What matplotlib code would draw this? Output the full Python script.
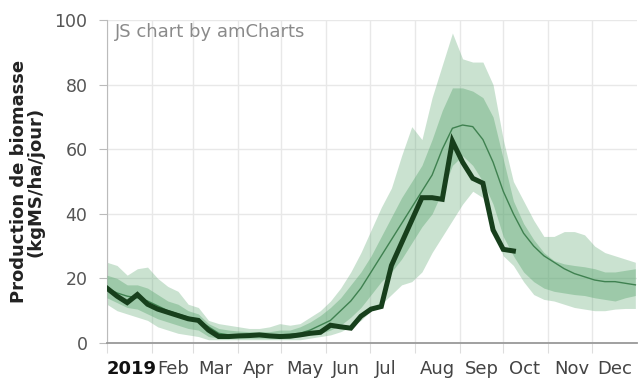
import matplotlib
matplotlib.use('Agg')
import matplotlib.pyplot as plt
import matplotlib.transforms as mtransforms
import pandas as pd

plt.rcParams['font.family'] = ['DejaVu Sans']

# semaines de 2019 (une valeur par semaine)
dates = pd.date_range('2019-01-01', periods=53, freq='7D')

# production 2019 (courbe épaisse, s'arrête début octobre)
prod_2019 = [17, 14.5, 12.5, 15, 12, 10.5, 9.5, 8.5, 7.5, 7, 4, 2, 2, 2.2,
             2.3, 2.5, 2.2, 2, 2.1, 2.5, 3, 3.3, 5.5, 5, 4.6, 8.3, 10.5, 11.3,
             24, 31, 38, 45, 45, 44.5, 62.5, 56, 51, 49.5, 35, 29, 28.5]

# médiane des années précédentes
mediane = [17, 15.5, 14.5, 14, 13, 11.5, 10, 9, 8, 7, 5, 3, 2.5, 2.5,
           2.5, 2.5, 2.5, 2.5, 2.7, 3, 4, 5.5, 7, 10, 13, 17, 22, 27,
           32, 37, 42, 47, 52, 60, 66.5, 67.5, 67, 63, 56, 47, 40, 34,
           30, 27, 25, 23, 21.5, 20.5, 19.5, 19, 19, 18.5, 18]

# bande intérieure
int_haut = [21, 20, 18, 18, 17, 15, 13, 12, 10, 9, 6, 4.5, 4, 3.7,
            3.5, 3.5, 3.5, 4, 4, 5, 6.5, 8.5, 11, 14, 18, 22, 27, 33,
            39, 45, 50, 55, 63, 72, 79, 79, 78, 76, 70, 57, 44, 37,
            32, 28, 25.5, 24.5, 24, 23.6, 23, 22, 22, 22.5, 23]
int_bas = [14, 12.5, 11, 10.5, 9, 7.5, 6.5, 5.5, 4.5, 4, 2, 1.5, 1.5, 1.5,
           1.5, 1.5, 1.5, 1.5, 1.5, 2, 2.5, 3, 4, 5.5, 8, 11, 15, 19,
           22, 26, 31, 36, 40, 47, 55, 58, 55, 50, 43, 33, 27, 22,
           19, 17, 16, 15.5, 15, 14.7, 14, 13.5, 13, 14, 14.7]

# bande extérieure
ext_haut = [25, 24, 21, 23, 23.5, 20, 17.5, 16, 12, 11, 7, 6, 5.5, 5,
            4.5, 4.5, 5, 6, 5.5, 6, 8, 10, 13, 17, 22, 28, 35, 42,
            48, 58, 67, 63, 76, 86, 96, 88, 87, 87, 80, 63, 50, 44,
            38, 33, 33, 34.5, 34.5, 33.5, 30, 28, 27, 26, 25]
ext_bas = [12, 10, 9, 8, 7, 5, 4, 3, 2.5, 2, 1, 1, 1, 1,
           1, 1, 1, 1, 1, 1, 1.5, 2, 2.5, 3.5, 5, 7, 10, 12,
           15, 18, 19, 22, 28, 33, 38, 43, 47, 45, 35, 27, 24, 19,
           15, 13.5, 13, 12, 11, 10.5, 10, 10, 10.5, 10.7, 10.7]

yticks = [0, 20, 40, 60, 80, 100]
mois = ['2019', 'Feb', 'Mar', 'Apr', 'May', 'Jun', 'Jul', 'Aug', 'Sep',
        'Oct', 'Nov', 'Dec']

fig, ax = plt.subplots(figsize=(6.4, 3.79), dpi=100)
fig.subplots_adjust(left=0.167, right=0.995, bottom=0.095, top=0.947)

vert = '#5fa873'
ax.fill_between(dates, ext_bas, ext_haut, color=vert, alpha=0.33, lw=0, zorder=2)
ax.fill_between(dates, int_bas, int_haut, color=vert, alpha=0.42, lw=0, zorder=3)
ax.plot(dates, mediane, color='#3f8150', lw=1.0, zorder=4)
ax.plot(dates[:len(prod_2019)], prod_2019, color='#173f1c', lw=3.6,
        solid_joinstyle='miter', zorder=5)

ax.set_ylim(0, 100)
ax.set_xlim(pd.Timestamp('2019-01-01'), pd.Timestamp('2020-01-01'))
ax.set_yticks(yticks)
ax.tick_params(axis='y', labelsize=12.5, colors='#555555', length=6,
               width=0.8, pad=8)
ax.tick_params(axis='y', color='#bbbbbb')

debuts = pd.date_range('2019-01-01', periods=12, freq='MS')
ax.set_xticks(debuts)
ax.set_xticklabels(mois)
ax.tick_params(axis='x', labelsize=13, colors='#444444', length=7,
               width=0.8, pad=5)
ax.tick_params(axis='x', color='#dddddd')
decal = mtransforms.ScaledTranslation(4 / 72, 0, fig.dpi_scale_trans)
for lab in ax.get_xticklabels():
    lab.set_horizontalalignment('left')
    lab.set_transform(lab.get_transform() + decal)
first = ax.get_xticklabels()[0]
first.set_fontweight('bold')
first.set_color('#111111')
first.set_transform(first.get_transform() +
                    mtransforms.ScaledTranslation(-4 / 72, 0, fig.dpi_scale_trans))

ax.grid(True, color='#e8e8e8', lw=1.0, zorder=0)
ax.set_axisbelow(True)
for s in ['top', 'right']:
    ax.spines[s].set_visible(False)
ax.spines['left'].set_color('#bbbbbb')
ax.spines['bottom'].set_color('#999999')
ax.spines['bottom'].set_linewidth(1.3)

ax.set_ylabel('Production de biomasse\n(kgMS/ha/jour)', fontsize=13,
              fontweight='bold', color='#222222', linespacing=0.85)
ax.yaxis.set_label_coords(-0.118, 0.5)

ax.text(0.016, 0.99, 'JS chart by amCharts', transform=ax.transAxes,
        fontsize=13, color='#8a8a8a', ha='left', va='top')

fig.savefig('out.png', dpi=100)
